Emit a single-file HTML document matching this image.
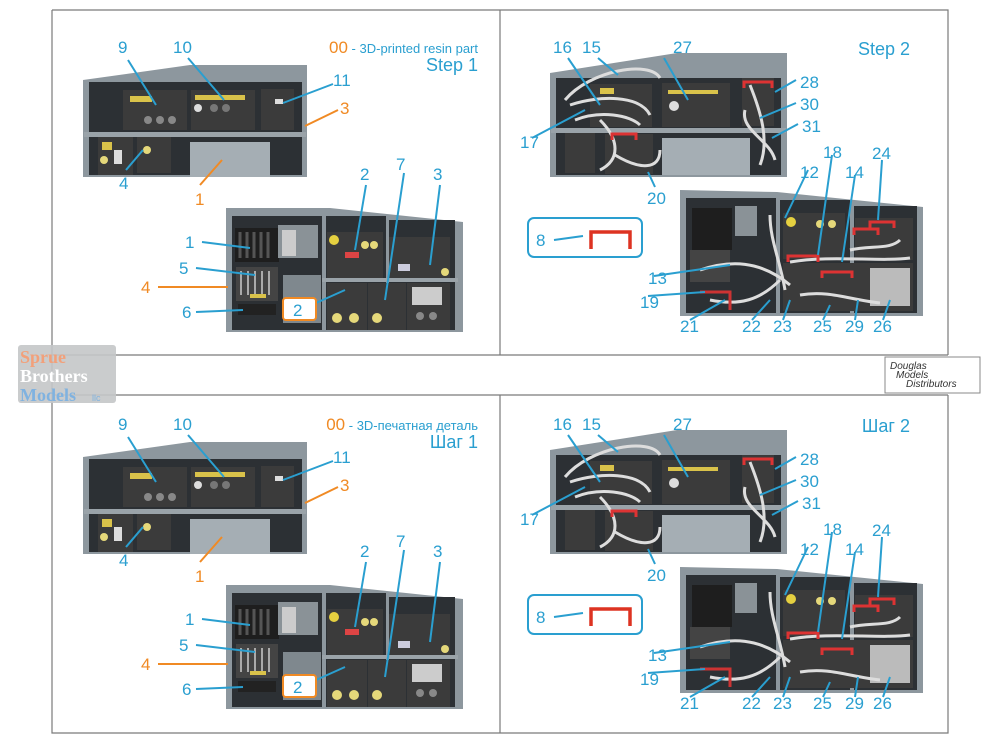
<!DOCTYPE html>
<html><head><meta charset="utf-8"><style>
html,body{margin:0;padding:0;background:#fff;}
svg{display:block;}
text{font-family:"Liberation Sans",Arial,sans-serif;}
.c{fill:#2a9fd0;font-size:17px;}
.o{fill:#f08a24;font-size:17px;}
.lc{stroke:#2a9fd0;stroke-width:2;fill:none;}
.lo{stroke:#f08a24;stroke-width:2;fill:none;}
</style></head><body>
<svg width="1000" height="750" viewBox="0 0 1000 750" xmlns="http://www.w3.org/2000/svg">
<defs>
<g id="LU">
 <polygon points="83,80 190,65 307,65 307,177 83,177" fill="#8d979e"/>
 <rect x="89" y="82" width="213" height="50" fill="#2c3034"/>
 <rect x="89" y="137" width="213" height="38" fill="#2c3034"/>
 <rect x="123" y="90" width="64" height="40" fill="#3b3b3b"/><rect x="130" y="96" width="22" height="6" fill="#d9c24a"/><circle cx="148" cy="120" r="4" fill="#888"/><circle cx="160" cy="120" r="4" fill="#888"/><circle cx="172" cy="120" r="4" fill="#888"/>
 <rect x="191" y="90" width="64" height="40" fill="#3b3b3b"/><rect x="195" y="95" width="50" height="5" fill="#d9c24a"/><circle cx="198" cy="108" r="4" fill="#ddd"/><circle cx="214" cy="108" r="4" fill="#777"/><circle cx="226" cy="108" r="4" fill="#777"/>
 <rect x="261" y="89" width="33" height="41" fill="#3b3b3b"/><rect x="275" y="99" width="8" height="5" fill="#ddd"/>
 <rect x="98" y="136" width="35" height="39" fill="#3b3b3b"/><rect x="102" y="142" width="10" height="8" fill="#d9c24a"/><circle cx="104" cy="160" r="4" fill="#e5d87a"/><rect x="114" y="150" width="8" height="14" fill="#ddd"/>
 <rect x="137" y="135" width="34" height="38" fill="#3b3b3b"/><circle cx="147" cy="150" r="4" fill="#e5d87a"/>
 <rect x="190" y="142" width="80" height="35" fill="#a5aeb4"/>
 <rect x="84" y="132" width="222" height="5" fill="#9aa3a9"/>
 <polygon points="226,208 330,208 463,222 463,332 226,332" fill="#8d979e"/>
 <rect x="232" y="216" width="90" height="114" fill="#2c3034"/>
 <rect x="326" y="216" width="60" height="114" fill="#2c3034"/>
 <rect x="389" y="220" width="66" height="110" fill="#2c3034"/>
 <rect x="283" y="275" width="38" height="48" fill="#7f888e"/>
 <rect x="235" y="228" width="44" height="34" fill="#1e1e1e"/><path d="M240 232v26M247 232v26M254 232v26M261 232v26M268 232v26" stroke="#555" stroke-width="3"/>
 <rect x="278" y="225" width="40" height="33" fill="#8a9297"/><rect x="282" y="230" width="14" height="26" fill="#ccc"/>
 <rect x="236" y="267" width="42" height="34" fill="#444"/><path d="M241 271v24M248 271v24M255 271v24M262 271v24M269 271v24" stroke="#aaa" stroke-width="2"/><rect x="250" y="294" width="16" height="4" fill="#d9c24a"/>
 <rect x="238" y="304" width="38" height="11" fill="#222"/>
 <rect x="327" y="232" width="56" height="46" fill="#3b3b3b"/><circle cx="334" cy="240" r="5" fill="#e5d040"/><circle cx="365" cy="245" r="4" fill="#e5d87a"/><circle cx="374" cy="245" r="4" fill="#e5d87a"/><rect x="345" y="252" width="14" height="6" fill="#d44"/>
 <rect x="389" y="237" width="61" height="43" fill="#3b3b3b"/><rect x="398" y="264" width="12" height="7" fill="#ccd"/><circle cx="445" cy="272" r="4" fill="#e5d87a"/>
 <rect x="327" y="283" width="40" height="47" fill="#3b3b3b"/><rect x="368" y="283" width="38" height="47" fill="#3b3b3b"/><rect x="407" y="283" width="43" height="47" fill="#3b3b3b"/><rect x="412" y="287" width="30" height="18" fill="#ccc"/>
 <circle cx="337" cy="318" r="5" fill="#e5d87a"/><circle cx="354" cy="318" r="5" fill="#e5d87a"/><circle cx="377" cy="318" r="5" fill="#e5d87a"/><circle cx="420" cy="316" r="4" fill="#888"/><circle cx="433" cy="316" r="4" fill="#888"/>
 <rect x="322" y="278" width="136" height="4" fill="#9aa3a9"/>
</g>
<g id="RU">
 <polygon points="550,73 677,53 787,53 787,177 550,177" fill="#8d979e"/>
 <rect x="556" y="78" width="225" height="50" fill="#2c3034"/>
 <rect x="556" y="133" width="225" height="42" fill="#2c3034"/>
 <rect x="590" y="84" width="62" height="43" fill="#3b3b3b"/><rect x="600" y="88" width="14" height="6" fill="#d9c24a"/>
 <rect x="662" y="83" width="68" height="44" fill="#3b3b3b"/><rect x="668" y="90" width="50" height="4" fill="#d9c24a"/><circle cx="674" cy="106" r="5" fill="#ddd"/>
 <rect x="742" y="78" width="32" height="48" fill="#3b3b3b"/>
 <rect x="565" y="133" width="30" height="40" fill="#3b3b3b"/><rect x="605" y="134" width="48" height="40" fill="#3b3b3b"/>
 <rect x="662" y="138" width="88" height="37" fill="#a5aeb4"/>
 <rect x="551" y="128" width="235" height="5" fill="#9aa3a9"/>
 <path d="M565 100 C590 70,650 60,660 78 M570 105 C600 95,640 95,650 115 M575 120 C600 110,630 115,640 125 M600 120 C620 140,620 160,600 170 M615 155 C640 170,660 170,660 150" stroke="#ddd" stroke-width="3" fill="none"/>
 <path d="M750 85 C760 110,770 140,760 165 M745 110 C740 130,770 140,775 160" stroke="#ddd" stroke-width="3" fill="none"/>
 <path d="M744 88v-6h28v6" stroke="#d33" stroke-width="3" fill="none"/><path d="M612 140v-6h24v6" stroke="#d33" stroke-width="3" fill="none"/>
 <polygon points="680,190 777,192 923,207 923,316 680,316" fill="#8d979e"/>
 <rect x="686" y="198" width="90" height="115" fill="#2c3034"/>
 <rect x="780" y="200" width="70" height="113" fill="#2c3034"/>
 <rect x="854" y="206" width="63" height="107" fill="#2c3034"/>
 <rect x="692" y="208" width="40" height="42" fill="#1e1e1e"/><rect x="735" y="206" width="22" height="30" fill="#8a9297"/>
 <rect x="690" y="250" width="40" height="32" fill="#444"/>
 <rect x="783" y="213" width="62" height="46" fill="#3b3b3b"/><circle cx="791" cy="222" r="5" fill="#e5d040"/><circle cx="820" cy="224" r="4" fill="#e5d87a"/><circle cx="832" cy="224" r="4" fill="#e5d87a"/>
 <rect x="855" y="218" width="58" height="42" fill="#3b3b3b"/>
 <rect x="783" y="263" width="130" height="48" fill="#3b3b3b"/><rect x="870" y="268" width="40" height="38" fill="#bbb"/>
 <path d="M770 215 C770 240,780 260,785 290 M700 270 C730 260,760 260,790 285 M710 300 C740 306,760 300,780 280 M790 262 C830 255,880 262,910 258 M800 295 C830 290,850 300,880 303 M850 250 C870 245,890 250,900 240" stroke="#ddd" stroke-width="3" fill="none"/>
 <path d="M700 292h30v18" stroke="#c33" stroke-width="3" fill="none"/>
 <path d="M788 262v-6h30v6M822 278v-6h30v6M854 235v-6h24v6M870 228v-6h24v6" stroke="#d33" stroke-width="3" fill="none"/>
</g>
</defs>

<g stroke="#7a7a7a" stroke-width="1.2" fill="none">
 <path d="M52 10H948V355M52 10V733H948V395M500 10V355M500 395V733M52 355H948M52 395H948"/>
</g>

<use href="#LU"/><use href="#LU" y="377"/>
<use href="#RU"/><use href="#RU" y="377"/>

<g id="LL">
<path class="lc" d="M128 60L156 105M188 58L224 100M333 84L283 103M126 170L143 150M366 185L355 250M404 173L385 300M440 185L430 265M202 242L250 248M196 268L255 275M196 312L243 310M316 303L345 290"/>
<path class="lo" d="M338 110L305 126M200 185L222 160M158 287L228 287"/>
</g>
<use href="#LL" y="377"/>
<rect x="283" y="298" width="33" height="22" rx="3" fill="#fff" stroke="#f08a24" stroke-width="2"/>
<rect x="283" y="675" width="33" height="22" rx="3" fill="#fff" stroke="#f08a24" stroke-width="2"/>

<text class="c" x="118" y="53">9</text><text class="c" x="173" y="53">10</text><text class="c" x="333" y="86">11</text>
<text class="o" x="340" y="114">3</text><text class="c" x="119" y="189">4</text><text class="o" x="195" y="205">1</text>
<text class="c" x="360" y="180">2</text><text class="c" x="396" y="170">7</text><text class="c" x="433" y="180">3</text>
<text class="c" x="185" y="248">1</text><text class="c" x="179" y="274">5</text><text class="o" x="141" y="293">4</text><text class="c" x="182" y="318">6</text>
<text class="c" x="293" y="316">2</text>
<text x="478" y="53" text-anchor="end" style="font-size:13px"><tspan fill="#f08a24" style="font-size:17px">00</tspan><tspan fill="#2a9fd0"> - 3D-printed resin part</tspan></text>
<text class="c" x="478" y="71" text-anchor="end" style="font-size:18px">Step 1</text>

<text class="c" x="118" y="430">9</text><text class="c" x="173" y="430">10</text><text class="c" x="333" y="463">11</text>
<text class="o" x="340" y="491">3</text><text class="c" x="119" y="566">4</text><text class="o" x="195" y="582">1</text>
<text class="c" x="360" y="557">2</text><text class="c" x="396" y="547">7</text><text class="c" x="433" y="557">3</text>
<text class="c" x="185" y="625">1</text><text class="c" x="179" y="651">5</text><text class="o" x="141" y="670">4</text><text class="c" x="182" y="695">6</text>
<text class="c" x="293" y="693">2</text>
<text x="478" y="430" text-anchor="end" style="font-size:13px"><tspan fill="#f08a24" style="font-size:17px">00</tspan><tspan fill="#2a9fd0"> - 3D-печатная деталь</tspan></text>
<text class="c" x="478" y="448" text-anchor="end" style="font-size:18px">Шаг 1</text>

<g id="RL">
<path class="lc" d="M568 58L600 105M598 58L618 75M664 58L688 100M532 138L585 110M796 80L775 92M796 103L760 118M798 124L772 138M655 187L648 172M808 170L785 218M832 155L818 255M855 175L842 262M882 160L878 220M654 276L730 265M648 296L705 292M690 320L725 300M752 320L770 300M783 320L790 300M823 320L830 305M855 320L858 300M883 320L890 300M554 240L583 236"/>
<rect x="528" y="218" width="114" height="39" rx="6" fill="none" stroke="#2a9fd0" stroke-width="2"/>
<path d="M591 249V232H630V249" stroke="#d32" stroke-width="3.5" fill="none"/>
</g>
<use href="#RL" y="377"/>
<text class="c" x="553" y="53">16</text><text class="c" x="582" y="53">15</text><text class="c" x="673" y="53">27</text>
<text class="c" x="910" y="55" text-anchor="end" style="font-size:18px">Step 2</text>
<text class="c" x="800" y="88">28</text><text class="c" x="800" y="110">30</text><text class="c" x="802" y="132">31</text>
<text class="c" x="520" y="148">17</text><text class="c" x="647" y="204">20</text>
<text class="c" x="800" y="178">12</text><text class="c" x="823" y="158">18</text><text class="c" x="845" y="178">14</text><text class="c" x="872" y="159">24</text>
<text class="c" x="648" y="284">13</text><text class="c" x="640" y="308">19</text>
<text class="c" x="680" y="332">21</text><text class="c" x="742" y="332">22</text><text class="c" x="773" y="332">23</text><text class="c" x="813" y="332">25</text><text class="c" x="845" y="332">29</text><text class="c" x="873" y="332">26</text>
<text class="c" x="536" y="246">8</text>

<text class="c" x="553" y="430">16</text><text class="c" x="582" y="430">15</text><text class="c" x="673" y="430">27</text>
<text class="c" x="910" y="432" text-anchor="end" style="font-size:18px">Шаг 2</text>
<text class="c" x="800" y="465">28</text><text class="c" x="800" y="487">30</text><text class="c" x="802" y="509">31</text>
<text class="c" x="520" y="525">17</text><text class="c" x="647" y="581">20</text>
<text class="c" x="800" y="555">12</text><text class="c" x="823" y="535">18</text><text class="c" x="845" y="555">14</text><text class="c" x="872" y="536">24</text>
<text class="c" x="648" y="661">13</text><text class="c" x="640" y="685">19</text>
<text class="c" x="680" y="709">21</text><text class="c" x="742" y="709">22</text><text class="c" x="773" y="709">23</text><text class="c" x="813" y="709">25</text><text class="c" x="845" y="709">29</text><text class="c" x="873" y="709">26</text>
<text class="c" x="536" y="623">8</text>

<rect x="18" y="345" width="98" height="58" rx="3" fill="#c4c6c8" opacity="0.9"/>
<text x="20" y="363" style="font-family:'Liberation Serif',serif;font-weight:bold;font-size:18px" fill="#f2a07a">Sprue</text>
<text x="20" y="382" style="font-family:'Liberation Serif',serif;font-weight:bold;font-size:18px" fill="#ffffff">Brothers</text>
<text x="20" y="401" style="font-family:'Liberation Serif',serif;font-weight:bold;font-size:18px" fill="#7fb2e0">Models</text>
<text x="92" y="401" style="font-size:9px" fill="#7fb2e0">llc</text>
<rect x="885" y="357" width="95" height="36" fill="#fff" stroke="#888" stroke-width="1"/>
<text x="890" y="369" style="font-style:italic;font-size:10px" fill="#333">Douglas</text>
<text x="896" y="378" style="font-style:italic;font-size:10px" fill="#333">Models</text>
<text x="906" y="387" style="font-style:italic;font-size:10px" fill="#333">Distributors</text>
</svg>
</body></html>
